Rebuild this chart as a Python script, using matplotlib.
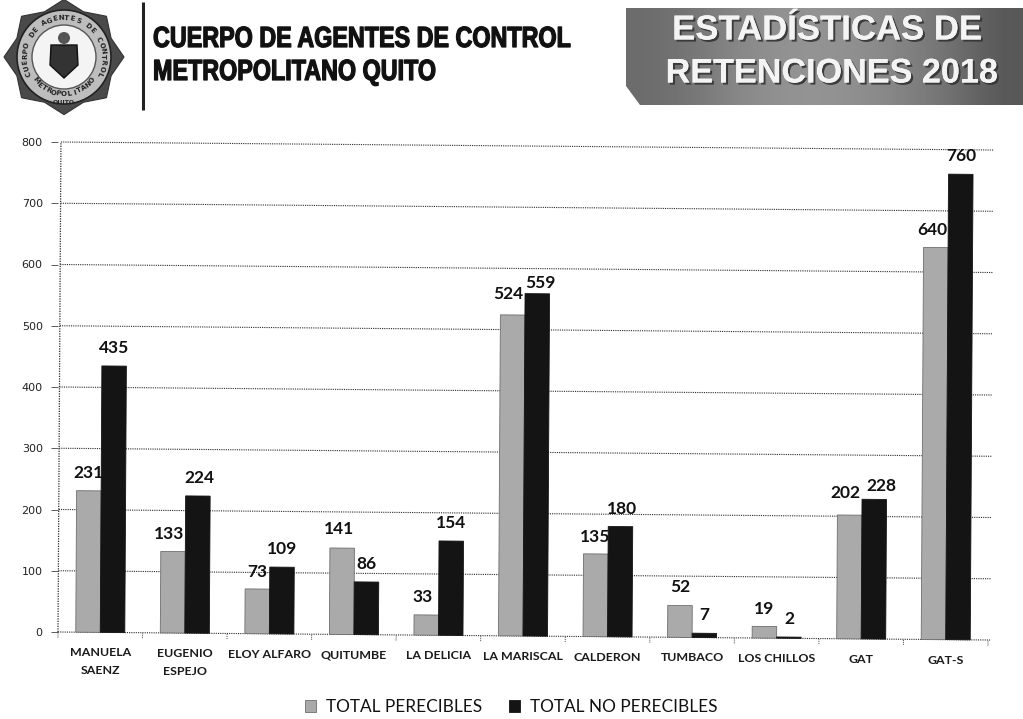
import numpy as np
import matplotlib
matplotlib.use("Agg")
import matplotlib.pyplot as plt
import matplotlib.patheffects as pe
from matplotlib.patches import Polygon, Circle
from matplotlib.transforms import Affine2D

# Data

categories = ["MANUELA\nSAENZ", "EUGENIO\nESPEJO", "ELOY ALFARO", "QUITUMBE", "LA DELICIA",
              "LA MARISCAL", "CALDERON", "TUMBACO", "LOS CHILLOS", "GAT", "GAT-S"]
perecibles = [231, 133, 73, 141, 33, 524, 135, 52, 19, 202, 640]
no_perecibles = [435, 224, 109, 86, 154, 559, 180, 7, 2, 228, 760]
y_ticks = [0, 100, 200, 300, 400, 500, 600, 700, 800]

# hand moved data labels, x shift and height above the bar in pixels
perecibles_dx = [0, -4, 0, -3, -4, -4, -1, 0, 0, -4, -4]
perecibles_dy = [18, 18, 17, 19, 18, 21, 17, 18, 17, 22, 18]
no_perecibles_dx = [0, 1, 0, 0, 0, 3, 2, 0, 0, 7, 1]
no_perecibles_dy = [18, 18, 18, 18, 18, 11, 18, 18, 18, 13, 18]

GRAY = "#aaaaaa"
BLACK = "#141414"
W, H = 1023, 719

fig = plt.figure(figsize=(W / 100, H / 100), dpi=100, facecolor="white")

# Chart, axes box in pixels

left, right, top, bottom = 58, 988, 142, 632
ax = fig.add_axes([left / W, (H - bottom) / H, (right - left) / W, (bottom - top) / H])
ax.patch.set_alpha(0)
ax.set_xlim(-0.5, 10.5)
ax.set_ylim(0, 800)
for s in ax.spines.values():
    s.set_visible(False)

# the page was scanned a little crooked
kx, ky = 0.006, 0.0086
tilt = Affine2D.from_values(1, -ky, kx, 1, -kx * (H - bottom), ky * left)
tilted = ax.transData + tilt

x = np.arange(len(categories))
bar_w = 0.29
bars1 = ax.bar(x - bar_w / 2, perecibles, bar_w, color=GRAY, edgecolor="#6e6e6e", linewidth=0.6,
               label="TOTAL PERECIBLES", zorder=3, clip_on=False)
bars2 = ax.bar(x + bar_w / 2, no_perecibles, bar_w, color=BLACK, edgecolor=BLACK, linewidth=0.6,
               label="TOTAL NO PERECIBLES", zorder=3, clip_on=False)
for b in list(bars1) + list(bars2):
    b.set_transform(tilted)

# Grid, y axis line and the small ticks between groups
dots = (0, (1, 1))
ax.hlines(y_ticks, -0.5, 10.53, colors="#2b2b2b", linewidth=0.8, linestyles=[dots],
          transform=tilted, zorder=1, clip_on=False)
ax.vlines(-0.5, 0, 800, colors="#2b2b2b", linewidth=0.9, linestyles=[dots],
          transform=tilted, zorder=1, clip_on=False)
ax.vlines(np.arange(-0.5, 11), -9, 0, colors="#444444", linewidth=0.7, linestyles=[dots],
          transform=tilted, zorder=1, clip_on=False)

ax.set_yticks(y_ticks)
ax.tick_params(axis="y", length=5, width=0.6, color="#444444", pad=6, labelsize=8, labelcolor="#222222")
ax.set_xticks(x, categories, fontfamily="Lato", fontweight="bold", fontsize=8.9, color="#1a1a1a")
ax.tick_params(axis="x", length=0)

# tick labels follow the tilt too
for i, tick in enumerate(ax.xaxis.get_major_ticks()):
    px = 100.5 + 84.5 * i
    tick.set_pad((15 + ky * (px - left)) * 0.72)
    tick.label1.set_linespacing(1.75)

# Data labels
def put_labels(values, offset, dx, dy):
    for i, v in enumerate(values):
        ax.annotate(str(v), xy=(x[i] + offset, v), xycoords=tilted,
                    xytext=(dx[i] * 0.72, dy[i] * 0.72), textcoords="offset points",
                    ha="center", va="center", fontsize=12.5, fontfamily="Lato", fontweight="bold",
                    color="#111111", zorder=4, annotation_clip=False)

put_labels(perecibles, -bar_w / 2, perecibles_dx, perecibles_dy)
put_labels(no_perecibles, bar_w / 2, no_perecibles_dx, no_perecibles_dy)

# Legend
fig.legend(handles=[bars1, bars2], loc="center", bbox_to_anchor=(511 / W, (H - 707) / H), ncol=2,
           frameon=False, prop={"family": "Lato", "size": 12.4}, handlelength=0.68, handleheight=0.68,
           handletextpad=0.55, columnspacing=1.55, labelcolor="#111111")

# Header, drawn in page pixels

page = fig.add_axes([0, 0, 1, 1], zorder=5)
page.set_xlim(0, W)
page.set_ylim(H, 0)
page.axis("off")
page.patch.set_alpha(0)

# Badge
cx, cy = 64, 57
angles = np.deg2rad(np.arange(0, 360, 22.5))
radii = np.where(np.arange(16) % 2 == 0, 60, 51)
star = np.column_stack((cx + radii * np.cos(angles), cy + radii * np.sin(angles) * 0.96))
page.add_patch(Polygon(star, closed=True, facecolor="#4a4a4a", edgecolor="#333333", linewidth=0.8))
page.add_patch(Circle((cx, cy), 47, facecolor="#bdbdbd", edgecolor="#222222", linewidth=1.2))
page.add_patch(Circle((cx, cy), 32, facecolor="#f4f4f4", edgecolor="#555555", linewidth=1))
shield = [(cx - 13, cy - 12), (cx + 13, cy - 12), (cx + 14, cy + 8), (cx, cy + 21), (cx - 14, cy + 8)]
page.add_patch(Polygon(shield, closed=True, facecolor="#333333", edgecolor="#111111"))
page.add_patch(Circle((cx, cy - 19), 6, facecolor="#555555", edgecolor="none"))

def ring_text(text, start, end, r, flip=False):
    for ch, a in zip(text, np.linspace(start, end, len(text))):
        rad = np.deg2rad(a)
        rot = -a - 90 if not flip else -a + 90
        page.text(cx + r * np.cos(rad), cy + r * np.sin(rad), ch, fontsize=5, fontweight="bold",
                  rotation=rot, rotation_mode="anchor", ha="center", va="center", color="#222222")

ring_text("CUERPO DE AGENTES DE CONTROL", -205, 25, 39)
ring_text("METROPOLITANO", 140, 40, 37, flip=True)
page.text(cx, cy + 45, "QUITO", fontsize=4.5, fontweight="bold", ha="center", va="center", color="#222222")

page.plot([143, 143], [2, 110], color="#222222", linewidth=2.2, solid_capstyle="butt")

# narrow bold look for the heading, no condensed font is installed
class Squeeze(pe.AbstractPathEffect):
    def __init__(self, x0, sx, stroke):
        super().__init__()
        self.x0, self.sx, self.stroke = x0, sx, stroke

    def draw_path(self, renderer, gc, tpath, affine, rgbFace=None):
        squeezed = affine + Affine2D().translate(-self.x0, 0).scale(self.sx, 1).translate(self.x0, 0)
        gc0 = renderer.new_gc()
        gc0.copy_properties(gc)
        gc0.set_linewidth(self.stroke)
        gc0.set_foreground("#111111")
        renderer.draw_path(gc0, tpath, squeezed, rgbFace)
        gc0.restore()

head = [Squeeze(153, 0.80, 0.9)]
page.text(153, 39, "CUERPO DE AGENTES DE CONTROL", fontfamily="Liberation Sans", fontweight="bold",
          fontsize=21, ha="left", va="center", color="#111111", path_effects=head)
page.text(153, 72, "METROPOLITANO QUITO", fontfamily="Liberation Sans", fontweight="bold",
          fontsize=21, ha="left", va="center", color="#111111", path_effects=head)

# Banner with a cut corner
banner = Polygon([(626, 8), (1023, 8), (1023, 105), (640, 105), (626, 86)], closed=True,
                 facecolor="none", edgecolor="none")
page.add_patch(banner)
shade = np.array([[0.42, 0.47, 0.55, 0.58, 0.57, 0.52, 0.45, 0.34]])
grad = page.imshow(shade, extent=(626, 1023, 105, 8), cmap="gray", vmin=0, vmax=1,
                   interpolation="bicubic", aspect="auto", zorder=1)
grad.set_clip_path(banner)
page.set_xlim(0, W)
page.set_ylim(H, 0)

shadow = [pe.withSimplePatchShadow(offset=(1.5, -1.5), shadow_rgbFace="#333333", alpha=0.9), pe.Normal()]
page.text(827.5, 30, "ESTADÍSTICAS DE", fontfamily="Liberation Sans", fontweight="bold", fontsize=25,
          ha="center", va="center", color="#f4f4f4", path_effects=shadow, zorder=2)
page.text(831.5, 74, "RETENCIONES 2018", fontfamily="Liberation Sans", fontweight="bold", fontsize=24.6,
          ha="center", va="center", color="#f4f4f4", path_effects=shadow, zorder=2)

fig.savefig("out.png", dpi=100)
